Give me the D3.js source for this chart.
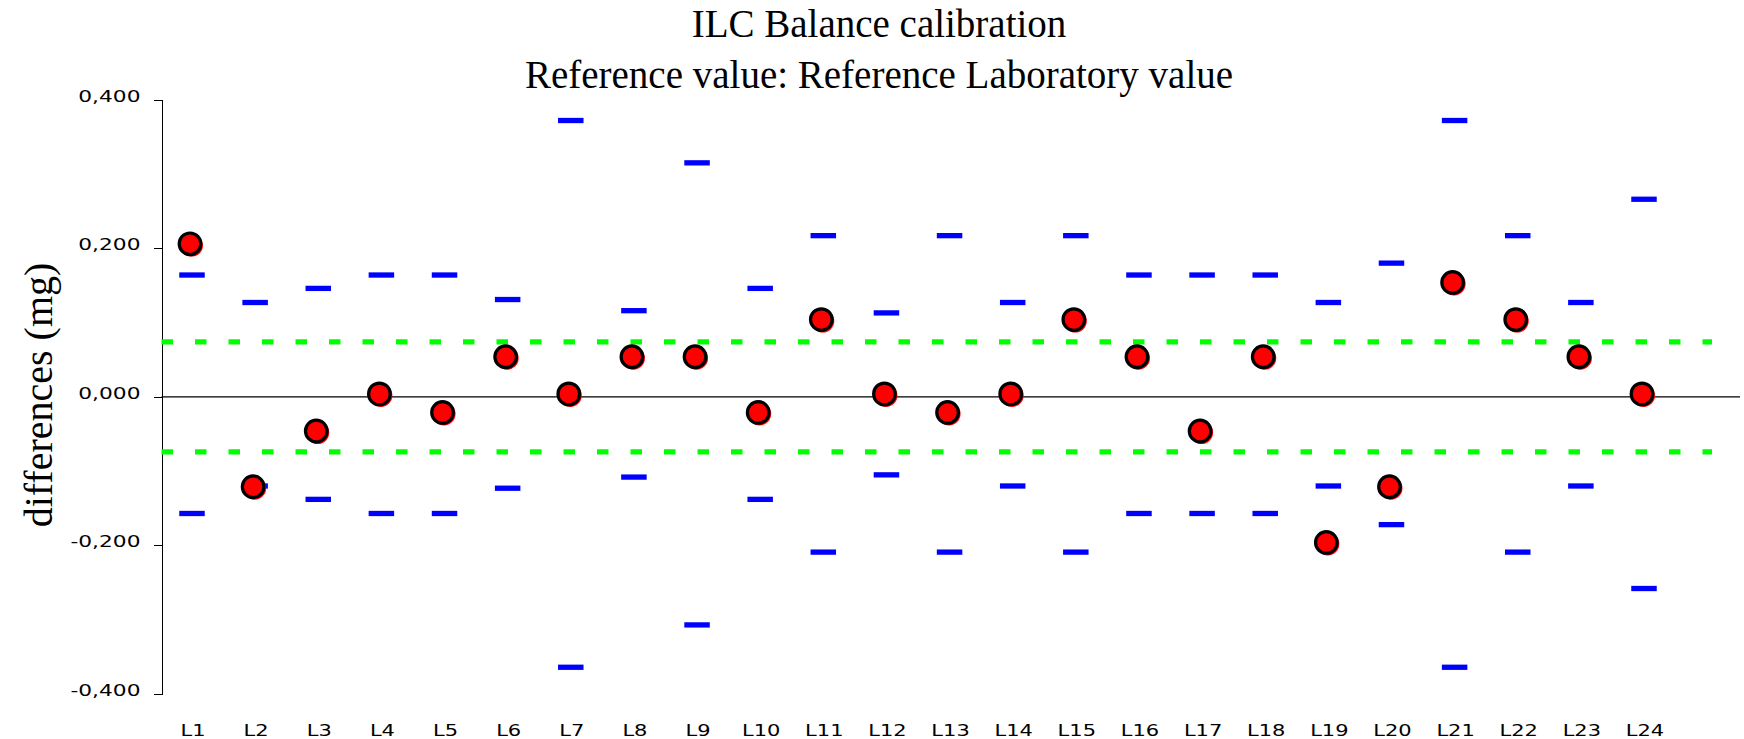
<!DOCTYPE html>
<html>
<head>
<meta charset="utf-8">
<script src="https://cdnjs.cloudflare.com/ajax/libs/d3/7.8.5/d3.min.js"></script>
<style>
  body { margin: 0; background: #fff; }
  svg { display: block; }
</style>
</head>
<body>
<div id="chart"></div>
<script>
const labs = ["L1","L2","L3","L4","L5","L6","L7","L8","L9","L10","L11","L12",
              "L13","L14","L15","L16","L17","L18","L19","L20","L21","L22","L23","L24"]
const diffs = [0.206, -0.121, -0.046, 0.004, -0.021, 0.054, 0.004, 0.054, 0.054, -0.021, 0.104, 0.004,
               -0.021, 0.004, 0.104, 0.054, -0.046, 0.054, -0.196, -0.121, 0.154, 0.104, 0.054, 0.004]
const upper = [0.164, 0.127, 0.146, 0.164, 0.164, 0.131, 0.372, 0.116, 0.315, 0.146, 0.217, 0.113,
               0.217, 0.127, 0.217, 0.164, 0.164, 0.164, 0.127, 0.180, 0.372, 0.217, 0.127, 0.266]
const lower = [-0.157, -0.120, -0.138, -0.157, -0.157, -0.123, -0.364, -0.108, -0.307, -0.138, -0.209, -0.105,
               -0.209, -0.120, -0.209, -0.157, -0.157, -0.157, -0.120, -0.172, -0.364, -0.209, -0.120, -0.258]
const limits = [0.074, -0.074]
const yTicks = [0.4, 0.2, 0, -0.2, -0.4]

const width = 1744, height = 739
const axisX = 161.5

const svg = d3.select('#chart').append('svg')
    .attr('width', width)
    .attr('height', height)

const x = d3.scalePoint()
    .domain(labs)
    .range([190, 1642])

const y = d3.scaleLinear()
    .domain([-0.4, 0.4])
    .range([694, 99.7])

const fmt = d3.formatLocale({decimal: ",", thousands: ".", grouping: [3], currency: ["", ""], minus: "-"}).format(".3f")

// titles
svg.append('text')
    .attr('x', 879).attr('y', 37)
    .attr('text-anchor', 'middle')
    .attr('font-family', '"Liberation Serif", "Times New Roman", serif')
    .attr('font-size', 39)
    .text('ILC Balance calibration')
svg.append('text')
    .attr('x', 879).attr('y', 88)
    .attr('text-anchor', 'middle')
    .attr('font-family', '"Liberation Serif", "Times New Roman", serif')
    .attr('font-size', 39)
    .text('Reference value: Reference Laboratory value')
svg.append('text')
    .attr('transform', 'translate(52,395) rotate(-90)')
    .attr('text-anchor', 'middle')
    .attr('font-family', '"Liberation Serif", "Times New Roman", serif')
    .attr('font-size', 40)
    .text('differences (mg)')

// y axis
const yAxis = svg.append('g')
    .attr('transform', `translate(${axisX},0)`)
    .call(d3.axisLeft(y).tickValues(yTicks).tickFormat(fmt).tickSize(8).tickSizeOuter(0))
yAxis.selectAll('path, line').attr('stroke', '#000').attr('shape-rendering', 'crispEdges')
yAxis.selectAll('text')
    .attr('font-family', '"DejaVu Sans", sans-serif')
    .attr('font-size', 15)
    .attr('fill', '#000')
    .attr('x', -14.5)
    .attr('dy', '1.5')
    .attr('transform', 'scale(1.45,1)')

// x labels at bottom
const xAxis = svg.append('g')
    .call(d3.axisBottom(x).tickSize(0))
xAxis.select('.domain').remove()
xAxis.selectAll('.tick').attr('transform', d => `translate(${x(d) + 3},0)`)
xAxis.selectAll('text')
    .attr('font-family', '"DejaVu Sans", sans-serif')
    .attr('font-size', 15)
    .attr('fill', '#000')
    .attr('x', 0)
    .attr('y', 736)
    .attr('dy', 0)
    .attr('transform', 'scale(1.4,1)')

// green limit lines
svg.append('g').selectAll('line')
    .data(limits)
    .join('line')
    .attr('x1', axisX)
    .attr('x2', 1712)
    .attr('y1', d => y(d))
    .attr('y2', d => y(d))
    .attr('stroke', '#00ff00')
    .attr('stroke-width', 5.3)
    .attr('stroke-dasharray', '11.5,22')

// zero line
svg.append('line')
    .attr('x1', axisX).attr('x2', 1740)
    .attr('y1', y(0)).attr('y2', y(0))
    .attr('stroke', '#000')
    .attr('stroke-width', 1.3)

// uncertainty dashes
const dashW = 25.5, dashH = 5.3
svg.append('g').selectAll('rect')
    .data(upper.map((v, i) => [labs[i], v]).concat(lower.map((v, i) => [labs[i], v])))
    .join('rect')
    .attr('x', d => x(d[0]) + 2 - dashW / 2)
    .attr('y', d => y(d[1]) - dashH / 2)
    .attr('width', dashW)
    .attr('height', dashH)
    .attr('fill', '#0000ff')

// points: red shadow then red dot with black ring
const pts = svg.append('g')
pts.selectAll('circle.shadow')
    .data(diffs)
    .join('circle')
    .attr('class', 'shadow')
    .attr('cx', (d, i) => x(labs[i]) + 1.5)
    .attr('cy', d => y(d) + 1.5)
    .attr('r', 11.5)
    .attr('fill', '#ff0000')
pts.selectAll('circle.dot')
    .data(diffs)
    .join('circle')
    .attr('class', 'dot')
    .attr('cx', (d, i) => x(labs[i]))
    .attr('cy', d => y(d))
    .attr('r', 10.8)
    .attr('fill', '#ff0000')
    .attr('stroke', '#000')
    .attr('stroke-width', 3.2)
</script>
</body>
</html>
